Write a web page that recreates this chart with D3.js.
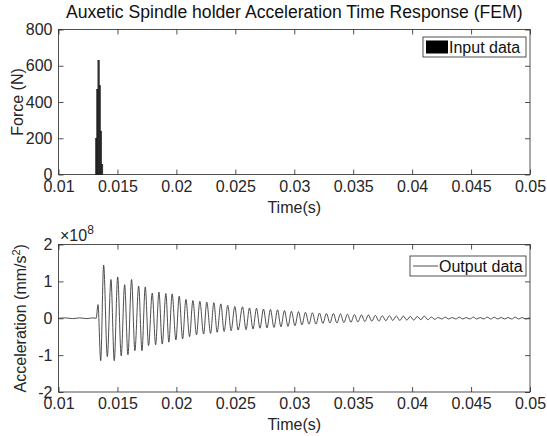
<!DOCTYPE html>
<html>
<head>
<meta charset="utf-8">
<script src="https://cdn.jsdelivr.net/npm/d3@7"></script>
<style>
	body { margin: 0; background: #fff; }
	svg { display: block; }
	text { font-family: "Liberation Sans", Arial, sans-serif; }
</style>
</head>
<body>
<svg id="chart"></svg>
<script>
// ========== DATA ==========
// input force bars (N)
var forceTime = [0.0132, 0.0133, 0.0134, 0.0135, 0.0136, 0.0137];
var forceValue = [200, 470, 630, 490, 240, 55];

// output acceleration, peaks and troughs (x 1e8 mm/s^2)
var accTime = [
	0.0100, 0.0106, 0.0112, 0.0118, 0.0124, 0.0129, 0.01320,
	0.01335, 0.01358, 0.01383, 0.01414, 0.01445, 0.01473, 0.01502, 0.01532,
	0.01561, 0.01589, 0.01620, 0.01648, 0.01680, 0.01708, 0.01736, 0.01764,
	0.01795, 0.01824, 0.01852, 0.01880, 0.01911, 0.01936, 0.01964, 0.01996,
	0.02024, 0.02053, 0.02081, 0.02112, 0.02140, 0.02171, 0.02199, 0.02231,
	0.02258, 0.02290, 0.02318, 0.02346, 0.02377, 0.02405, 0.02436, 0.02464,
	0.02496, 0.02524, 0.02561, 0.02591, 0.02620, 0.02650, 0.02680, 0.02709,
	0.02739, 0.02769, 0.02798, 0.02828, 0.02858, 0.02887, 0.02917, 0.02947,
	0.02976, 0.03006, 0.03036, 0.03065, 0.03095, 0.03125, 0.03154, 0.03184,
	0.03214, 0.03243, 0.03273, 0.03303, 0.03332, 0.03362, 0.03392, 0.03421,
	0.03451, 0.03481, 0.03510, 0.03540, 0.03570, 0.03599, 0.03629, 0.03658,
	0.03688, 0.03718, 0.03747, 0.03777, 0.03807, 0.03836, 0.03866, 0.03896,
	0.03925, 0.03955, 0.03985, 0.04014, 0.04044, 0.04074, 0.04103, 0.04133,
	0.04163, 0.04192, 0.04222, 0.04252, 0.04281, 0.04311, 0.04341, 0.04370,
	0.04400, 0.04430, 0.04459, 0.04489, 0.04519, 0.04548, 0.04578, 0.04607,
	0.04637, 0.04667, 0.04696, 0.04726, 0.04756, 0.04785, 0.04815, 0.04845,
	0.04874, 0.04904, 0.04934, 0.04963, 0.04993, 0.0500
];
var accValue = [
	0, 0.01, -0.01, 0.01, -0.01, 0.01, 0,
	0.37, -1.15, 1.44, -1.04, 1.05, -1.15, 1.12, -1.02,
	0.91, -0.99, 1.05, -0.88, 0.87, -0.88, 0.85, -0.74,
	0.68, -0.72, 0.71, -0.70, 0.67, -0.65, 0.66, -0.59,
	0.60, -0.56, 0.51, -0.50, 0.48, -0.45, 0.46, -0.43,
	0.44, -0.41, 0.42, -0.38, 0.39, -0.36, 0.35, -0.34,
	0.32, -0.32, 0.31, -0.31, 0.28, -0.29, 0.27, -0.27,
	0.25, -0.26, 0.24, -0.25, 0.23, -0.23, 0.21, -0.22,
	0.19, -0.20, 0.18, -0.18, 0.16, -0.16, 0.15, -0.16,
	0.14, -0.14, 0.13, -0.13, 0.13, -0.13, 0.12, -0.12,
	0.11, -0.11, 0.10, -0.10, 0.09, -0.09, 0.09, -0.08,
	0.08, -0.08, 0.07, -0.07, 0.07, -0.06, 0.06, -0.06,
	0.06, -0.05, 0.05, -0.05, 0.05, -0.04, 0.06, -0.04,
	0.03, -0.03, 0.02, -0.02, 0.03, -0.02, 0.02, -0.02,
	0.03, -0.02, 0.02, -0.02, 0.03, -0.02, 0.02, -0.02,
	0.03, -0.02, 0.03, -0.02, 0.02, -0.02, 0.02, -0.02,
	0.03, -0.02, 0.02, -0.02, 0.01, 0
];

var xTicks = [0.01, 0.015, 0.02, 0.025, 0.03, 0.035, 0.04, 0.045, 0.05];
var xTickLabels = ['0.01', '0.015', '0.02', '0.025', '0.03', '0.035', '0.04', '0.045', '0.05'];
var forceTicks = [0, 200, 400, 600, 800];
var forceTickLabels = ['0', '200', '400', '600', '800'];
var accTicks = [-2, -1, 0, 1, 2];
var accTickLabels = ['-2', '-1', '0', '1', '2'];

// ========== LAYOUT ==========
var width = 547;
var height = 436;
var left = 58.5;
var right = 530;
var top1 = 29.5, bottom1 = 174.5;
var top2 = 244.5, bottom2 = 392;
var axis_color = '#262626';
var fontSize = 16;

var svg = d3.select('svg#chart')
	.attr('width', width)
	.attr('height', height);

var x = d3.scaleLinear()
	.domain([0.01, 0.05])
	.range([left, right]);
var yForce = d3.scaleLinear()
	.domain([0, 800])
	.range([bottom1, top1]);
var yAcc = d3.scaleLinear()
	.domain([-2, 2])
	.range([bottom2, top2]);

// draws MATLAB style box with inward ticks on all four sides
function drawFrame(y, yTicks, yLabels, yTop, yBot) {
	var g = svg.append('g');

	g.append('rect')
		.attr('x', left)
		.attr('y', yTop)
		.attr('width', right - left)
		.attr('height', yBot - yTop)
		.attr('fill', 'none')
		.attr('stroke', axis_color)
		.attr('stroke-width', 0.8);

	var bx = g.append('g')
		.attr('transform', 'translate(0,' + yBot + ')')
		.call(d3.axisBottom(x).tickValues(xTicks)
			.tickFormat(function(d, i) { return xTickLabels[i]; })
			.tickSizeInner(-5).tickSizeOuter(0).tickPadding(6));
	var tx = g.append('g')
		.attr('transform', 'translate(0,' + yTop + ')')
		.call(d3.axisTop(x).tickValues(xTicks).tickFormat('')
			.tickSizeInner(-5).tickSizeOuter(0));
	var ly = g.append('g')
		.attr('transform', 'translate(' + left + ',0)')
		.call(d3.axisLeft(y).tickValues(yTicks)
			.tickFormat(function(d, i) { return yLabels[i]; })
			.tickSizeInner(-5).tickSizeOuter(0).tickPadding(6));
	var ry = g.append('g')
		.attr('transform', 'translate(' + right + ',0)')
		.call(d3.axisRight(y).tickValues(yTicks).tickFormat('')
			.tickSizeInner(-5).tickSizeOuter(0));

	[bx, tx, ly, ry].forEach(function(a) {
		a.select('.domain').remove();
		a.selectAll('line').attr('stroke', axis_color).attr('stroke-width', 0.8);
		a.selectAll('text')
			.attr('fill', axis_color)
			.style('font-size', fontSize + 'px')
			.style('font-family', '"Liberation Sans", Arial, sans-serif');
	});

	g.append('text')
		.attr('x', (left + right) / 2)
		.attr('y', yBot + 38)
		.attr('text-anchor', 'middle')
		.attr('fill', axis_color)
		.style('font-size', fontSize + 'px')
		.text('Time(s)');
	return g;
}

// ========== TOP PLOT ==========
drawFrame(yForce, forceTicks, forceTickLabels, top1, bottom1);

svg.append('g').selectAll('rect')
	.data(forceTime)
	.enter().append('rect')
		.attr('x', function(d) { return x(d) - 0.7; })
		.attr('y', function(d, i) { return yForce(forceValue[i]); })
		.attr('width', function(d) { return x(d + 0.00012) - x(d); })
		.attr('height', function(d, i) { return bottom1 - yForce(forceValue[i]); })
		.attr('fill', '#333')
		.attr('stroke', '#111')
		.attr('stroke-width', 0.5);

svg.append('text')
	.attr('x', (left + right) / 2)
	.attr('y', 18)
	.attr('text-anchor', 'middle')
	.attr('fill', '#111')
	.style('font-size', '17.6px')
	.text('Auxetic Spindle holder Acceleration Time Response (FEM)');

svg.append('text')
	.attr('transform', 'translate(23,' + ((top1 + bottom1) / 2) + ')rotate(-90)')
	.attr('text-anchor', 'middle')
	.attr('fill', axis_color)
	.style('font-size', fontSize + 'px')
	.text('Force (N)');

// legend
var leg1 = svg.append('g');
leg1.append('rect')
	.attr('x', 423).attr('y', 37)
	.attr('width', 103).attr('height', 20)
	.attr('fill', '#fff')
	.attr('stroke', axis_color)
	.attr('stroke-width', 0.8);
leg1.append('rect')
	.attr('x', 426).attr('y', 40.5)
	.attr('width', 22).attr('height', 13)
	.attr('fill', '#000');
leg1.append('text')
	.attr('x', 449).attr('y', 52.5)
	.attr('fill', '#111')
	.style('font-size', fontSize + 'px')
	.text('Input data');

// ========== BOTTOM PLOT ==========
drawFrame(yAcc, accTicks, accTickLabels, top2, bottom2);

var line = d3.line()
	.x(function(d) { return x(d); })
	.y(function(d, i) { return yAcc(accValue[i]); })
	.curve(d3.curveMonotoneX);

svg.append('path')
	.attr('d', line(accTime))
	.attr('fill', 'none')
	.attr('stroke', '#3a3a3a')
	.attr('stroke-width', 0.9);

var ylab = svg.append('text')
	.attr('transform', 'translate(26,' + ((top2 + bottom2) / 2) + ')rotate(-90)')
	.attr('text-anchor', 'middle')
	.attr('fill', axis_color)
	.style('font-size', fontSize + 'px')
	.text('Acceleration (mm/s');
ylab.append('tspan')
	.attr('dy', -6)
	.style('font-size', '11px')
	.text('2');
ylab.append('tspan')
	.attr('dy', 6)
	.text(')');

var expo = svg.append('text')
	.attr('x', 60)
	.attr('y', 241)
	.attr('fill', axis_color)
	.style('font-size', fontSize + 'px')
	.text('\u00d710');
expo.append('tspan')
	.attr('dy', -7)
	.style('font-size', '12px')
	.text('8');

var leg2 = svg.append('g');
leg2.append('rect')
	.attr('x', 410).attr('y', 256)
	.attr('width', 116).attr('height', 20)
	.attr('fill', '#fff')
	.attr('stroke', axis_color)
	.attr('stroke-width', 0.8);
leg2.append('line')
	.attr('x1', 413).attr('x2', 438)
	.attr('y1', 266).attr('y2', 266)
	.attr('stroke', '#3a3a3a')
	.attr('stroke-width', 0.9);
leg2.append('text')
	.attr('x', 439).attr('y', 271.5)
	.attr('fill', '#111')
	.style('font-size', fontSize + 'px')
	.text('Output data');
</script>
</body>
</html>
